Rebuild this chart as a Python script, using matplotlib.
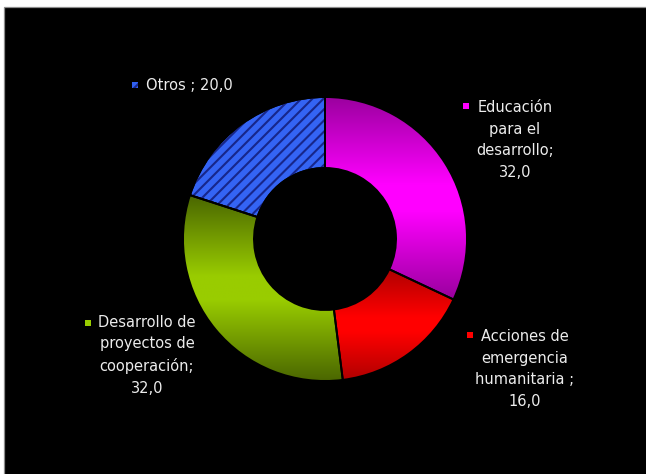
import numpy as np
import matplotlib
matplotlib.use('Agg')
import matplotlib.pyplot as plt
from matplotlib.patches import Rectangle, Wedge
from matplotlib.colors import to_rgb

# ---- data ----
categories = ['Educación\npara el\ndesarrollo;',
              'Acciones de\nemergencia\nhumanitaria ;',
              'Desarrollo de\nproyectos de\ncooperación;',
              'Otros ;']
values = [32.0, 16.0, 32.0, 20.0]
value_labels = ['32,0', '16,0', '32,0', '20,0']

# ---- styles / layout ----
W, H = 646, 474
dark_cols = ['#9a009e', '#b00000', '#4a6600', None]
bright_cols = ['#ff00ff', '#ff0000', '#99cc00', None]
marker_cols = ['#ff00ff', '#ff0000', '#99cc00', '#3060f0']
# label anchor (pixel coords from top-left): text x, last-line y, marker x, marker y
label_pos = [(515, 172, 466, 106), (525, 401, 470, 335),
             (147, 388, 88, 323), (146, 85, 135, 85)]
label_ha = ['center', 'center', 'center', 'left']
text_col = '#ececec'

plt.rcParams['hatch.linewidth'] = 1.5

fig = plt.figure(figsize=(W / 100, H / 100), dpi=100, facecolor='white')
ax = fig.add_axes([0, 0, 1, 1])
ax.set_axis_off()

# black chart area with grey border at top/left
ax.add_patch(Rectangle((3.5, -10), W + 10, H - 6.5 + 10, facecolor='black',
                       edgecolor='#8c8c8c', linewidth=0.9, zorder=0))

center = (325, H - 239)
outer_r, inner_r = 142, 71

wedges, _ = ax.pie(values, startangle=90, counterclock=False, radius=outer_r,
                   center=center, frame=True,
                   wedgeprops=dict(width=outer_r - inner_r, edgecolor='black',
                                   linewidth=1.4))

n = 256
t = np.linspace(0, 1, n)[:, None]
v = np.clip(1.15 * (1 - np.abs(2 * t - 1)), 0, 1)
for i, w in enumerate(wedges):
    if dark_cols[i] is not None:
        d = np.array(to_rgb(dark_cols[i]))
        b = np.array(to_rgb(bright_cols[i]))
        img = (d + (b - d) * v[..., None]) * np.ones((n, 2, 3))
        bb = w.get_path().get_extents()
        im = ax.imshow(img, extent=(bb.x0, bb.x1, bb.y0, bb.y1), origin='lower',
                       aspect='auto', interpolation='bilinear', zorder=2)
        im.set_clip_path(w)
        w.set_facecolor('none')
        w.set_zorder(3)
    else:
        w.set_facecolor('#3464f4')
        w.set_zorder(2)
        hp = Wedge(w.center, w.r, w.theta1, w.theta2, width=w.width,
                   facecolor='none', edgecolor='#17268a', linewidth=0,
                   hatch='///', zorder=2.5)
        ax.add_patch(hp)
        ol = Wedge(w.center, w.r, w.theta1, w.theta2, width=w.width,
                   facecolor='none', edgecolor='black', linewidth=1.4, zorder=3)
        ax.add_patch(ol)

# labels
for i, (cat, val) in enumerate(zip(categories, value_labels)):
    tx, ty, mx, my = label_pos[i]
    sep = ' ' if label_ha[i] == 'left' else '\n'
    ax.text(tx, H - (ty + 5), cat + sep + val, ha=label_ha[i], va='baseline',
            multialignment='center', color=text_col, fontsize=10.5,
            family='DejaVu Sans', linespacing=1.55, zorder=5)
    mk = Rectangle((mx - 3, H - my - 3), 6, 6, facecolor=marker_cols[i],
                   edgecolor='none', zorder=5)
    ax.add_patch(mk)
    if dark_cols[i] is None:
        ax.add_patch(Rectangle((mx - 3, H - my - 3), 6, 6, facecolor='none',
                               edgecolor='#17268a', linewidth=0, hatch='///',
                               zorder=5.5))

ax.set_xlim(0, W)
ax.set_ylim(0, H)
ax.set_aspect('auto')
fig.savefig('out.png', dpi=100, facecolor='white')
